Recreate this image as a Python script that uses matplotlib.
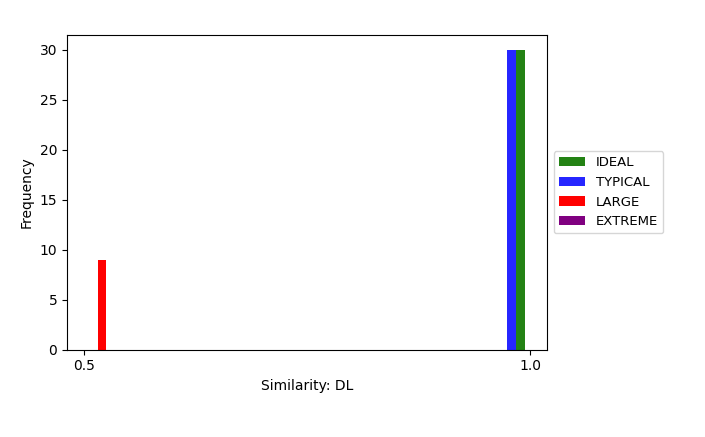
import matplotlib
matplotlib.use("Agg")
import matplotlib.pyplot as plt
from matplotlib.patches import Patch

# histogram bins (left edge, right edge) and counts per similarity class
labels = ["IDEAL", "TYPICAL", "LARGE", "EXTREME"]
colors = ["#238214", "#2626ff", "#ff0000", "#800080"]
bin_left = [[0.9843], [0.9742], [0.5150], []]
bin_right = [[0.9937], [0.9843], [0.5247], []]
counts = [[30], [30], [9], []]

fig = plt.figure(figsize=(7.05, 4.37), dpi=100)
ax = fig.add_axes([0.095, 0.2, 0.681, 0.72])

handles = []
for lab, col, lo, hi, c in zip(labels, colors, bin_left, bin_right, counts):
    widths = [h - l for l, h in zip(lo, hi)]
    ax.bar(lo, c, width=widths, align="edge", color=col)
    handles.append(Patch(facecolor=col, label=lab))

ax.set_xlim(0.4806, 1.019)
ax.set_ylim(0, 31.5)
ax.set_xticks([0.5, 1.0])
ax.set_xlabel("Similarity: DL")
ax.set_ylabel("Frequency")
ax.legend(handles=handles, loc="center left", bbox_to_anchor=(1.0, 0.5),
          fontsize=9.5)

fig.savefig("out.png", dpi=100)
